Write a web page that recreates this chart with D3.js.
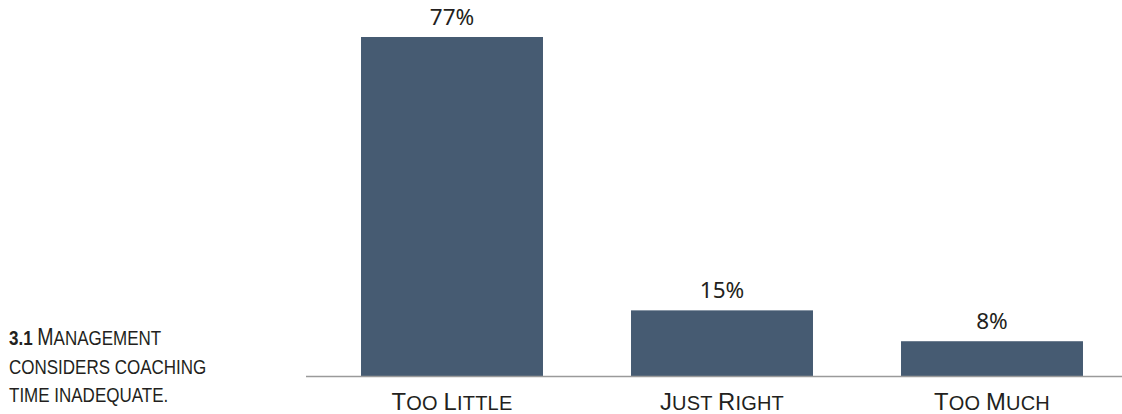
<!DOCTYPE html>
<html>
<head>
<meta charset="utf-8">
<script src="https://cdn.jsdelivr.net/npm/d3@7"></script>
<style>
  html, body { margin: 0; padding: 0; background: #fff; }
  svg { display: block; }
</style>
</head>
<body>
<svg id="chart" width="1122" height="414"></svg>
<script>
// Survey answers on coaching time, share of respondents (%)
const categories = ["Too Little", "Just Right", "Too Much"];
const values = [77, 15, 8];
const valueLabels = ["77%", "15%", "8%"];

// Caption, split into lines; each line is [bold prefix, text]
const captionLines = [
  ["3.1", "Management"],
  ["", "considers coaching"],
  ["", "time inadequate."]
];

const W = 1122, H = 414;
const baseY = 376.5;
const barColor = "#465b72";
const textColor = "#231f20";

const svg = d3.select("#chart");

const x = d3.scaleBand()
  .domain(categories)
  .range([317, 1127])
  .paddingInner(0.326)
  .paddingOuter(0.163);

const y = d3.scaleLinear()
  .domain([0, d3.max(values)])
  .range([baseY, 37]);

const data = categories.map((c, i) => ({ c, v: values[i], label: valueLabels[i] }));

// Bars
svg.append("g")
  .selectAll("rect")
  .data(data)
  .join("rect")
  .attr("x", d => x(d.c))
  .attr("y", d => y(d.v))
  .attr("width", x.bandwidth())
  .attr("height", d => baseY - y(d.v))
  .attr("fill", barColor);

// Value labels above bars
svg.append("g")
  .selectAll("text")
  .data(data)
  .join("text")
  .attr("x", d => x(d.c) + x.bandwidth() / 2)
  .attr("y", d => y(d.v) - 12)
  .attr("text-anchor", "middle")
  .attr("font-family", "'Noto Sans', 'Open Sans', sans-serif")
  .attr("font-size", 22.5)
  .attr("fill", textColor)
  .text(d => d.label);

// Baseline axis
const axis = svg.append("g")
  .attr("transform", `translate(0,${baseY})`)
  .call(d3.axisBottom(x).tickSize(0).tickFormat(""));
axis.select(".domain")
  .attr("d", `M306,0H${W}`)
  .attr("stroke", "#9a9a9a")
  .attr("stroke-width", 1.6);

// Small-caps text helper: capitals at full size, other letters uppercased at a smaller size
function smallCaps(textSel, str, big, small) {
  const parts = [];
  for (const ch of str) {
    const isCap = ch !== ch.toLowerCase() || /[0-9]/.test(ch);
    const size = isCap ? big : small;
    const last = parts[parts.length - 1];
    if (last && last.size === size) last.t += ch.toUpperCase();
    else parts.push({ t: ch.toUpperCase(), size });
  }
  parts.forEach(p => textSel.append("tspan").attr("font-size", p.size).text(p.t));
}

// Category labels
axis.selectAll(".tick").each(function(d) {
  const t = d3.select(this).append("text")
    .attr("y", 33)
    .attr("text-anchor", "middle")
    .attr("font-family", "'Liberation Sans', Arial, sans-serif")
    .attr("letter-spacing", 0.2)
    .attr("fill", textColor);
  smallCaps(t, d, 23.8, 20);
});

// Caption at the lower left, horizontally condensed
const cap = svg.append("g")
  .attr("transform", "translate(9,0) scale(0.85,1)");
captionLines.forEach((line, i) => {
  const t = cap.append("text")
    .attr("x", 0)
    .attr("y", 345.5 + i * 28.5)
    .attr("font-family", "'Liberation Sans', Arial, sans-serif")
    .attr("fill", textColor);
  if (line[0]) {
    t.append("tspan")
      .attr("font-weight", "bold")
      .attr("font-size", 20)
      .text(line[0] + " ");
  }
  smallCaps(t, line[1], 23, 20);
});
</script>
</body>
</html>
